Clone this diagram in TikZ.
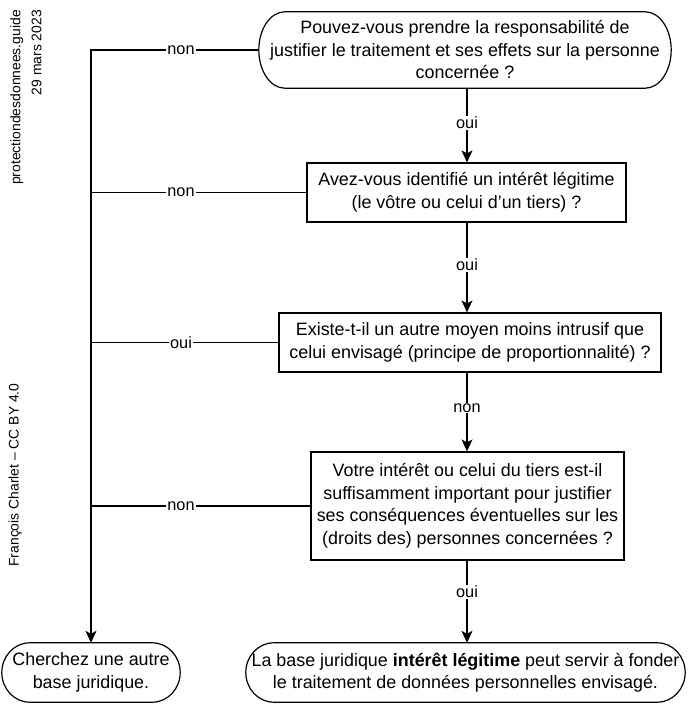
\documentclass[tikz,border=0pt]{standalone}
\usepackage{fontspec}
\setmainfont{Liberation Sans}
\usetikzlibrary{arrows.meta,calc}
\newcommand\stadium[2]{%
  \draw[boxline] let \p1=(#1.north east), \p2=(#1.south west), \n1={0.5*(\y1-\y2)} in
    ([xshift=#2]#1.north west) -- ([xshift=-#2]#1.north east)
    arc[start angle=90,end angle=-90,x radius=#2,y radius=\n1]
    -- ([xshift=#2]#1.south west)
    arc[start angle=270,end angle=90,x radius=#2,y radius=\n1] -- cycle;}
\begin{document}
\begin{tikzpicture}[x=1pt,y=1pt,
  boxline/.style={line width=1.2pt},
  maintext/.style={font=\fontsize{17.9}{22.5}\selectfont, align=center, inner sep=0pt},
  rectbox/.style={maintext, draw, boxline},
  termbox/.style={maintext},
  conn/.style={line width=1.2pt},
  arr/.style={conn, -{Stealth[length=12pt,width=11pt,inset=3pt]}},
  lbl/.style={font=\fontsize{16.3}{19}\selectfont, fill=white, inner sep=1pt},
  side/.style={font=\fontsize{13.9}{21}\selectfont, rotate=90, inner sep=0pt}]
\useasboundingbox (0,0) rectangle (692,713);
\fill[white] (0,0) rectangle (692,713);

\node[termbox, minimum width=412, minimum height=76] (top) at (465,663)
  {Pouvez-vous prendre la responsabilité de\\justifier le traitement et ses effets sur la personne\\concernée ?};
\node[rectbox, minimum width=319, minimum height=59] (q2) at (466.5,520.5)
  {Avez-vous identifié un intérêt légitime\\(le vôtre ou celui d’un tiers) ?};
\node[rectbox, minimum width=382, minimum height=59] (q3) at (470,370.5)
  {Existe-t-il un autre moyen moins intrusif que\\celui envisagé (principe de proportionnalité) ?};
\node[rectbox, minimum width=313, minimum height=108] (q4) at (467.5,207)
  {Votre intérêt ou celui du tiers est-il\\suffisamment important pour justifier\\ses conséquences éventuelles sur les\\(droits des) personnes concernées ?};
\node[termbox, minimum width=178, minimum height=59] (fail) at (91,40.5)
  {Cherchez une autre\\base juridique.};
\node[termbox, minimum width=439, minimum height=59] (ok) at (465.5,40.5)
  {La base juridique \textbf{intérêt légitime} peut servir à fonder\\le traitement de données personnelles envisagé.};
\stadium{top}{26pt}
\stadium{fail}{28pt}
\stadium{ok}{28pt}

\coordinate (col) at (467,0);
\coordinate (lab) at (181,0);

% main column
\draw[arr] (top.south -| col) -- (q2.north -| col);
\draw[arr] (q2.south -| col) -- (q3.north -| col);
\draw[arr] (q3.south -| col) -- (q4.north -| col);
\draw[arr] (q4.south -| col) -- (ok.north -| col);
\node[lbl] (l1) at (467,590) {oui};
\node[lbl] (l2) at (467,448) {oui};
\node[lbl] (l3) at (467,305) {non};
\node[lbl] (l4) at (467,121) {oui};

% left branch
\draw[arr] (top.west) -| (fail.north);
\draw[conn] (q2.west) -- (q2.west -| fail.north);
\draw[conn] (q3.west) -- (q3.west -| fail.north);
\draw[conn] (q4.west) -- (q4.west -| fail.north);
\node[lbl] (n1) at (top.west -| lab) {non};
\node[lbl] (n2) at (q2.west -| lab) {non};
\node[lbl] (n3) at (q3.west -| lab) {oui};
\node[lbl] (n4) at (q4.west -| lab) {non};

% side notes
\node[side, anchor=east, align=right] (site) at (26,703) {protectiondesdonnees.guide\\29 mars 2023};
\node[side] (author) at (15,238) {François Charlet – CC BY 4.0};
\end{tikzpicture}
\end{document}
